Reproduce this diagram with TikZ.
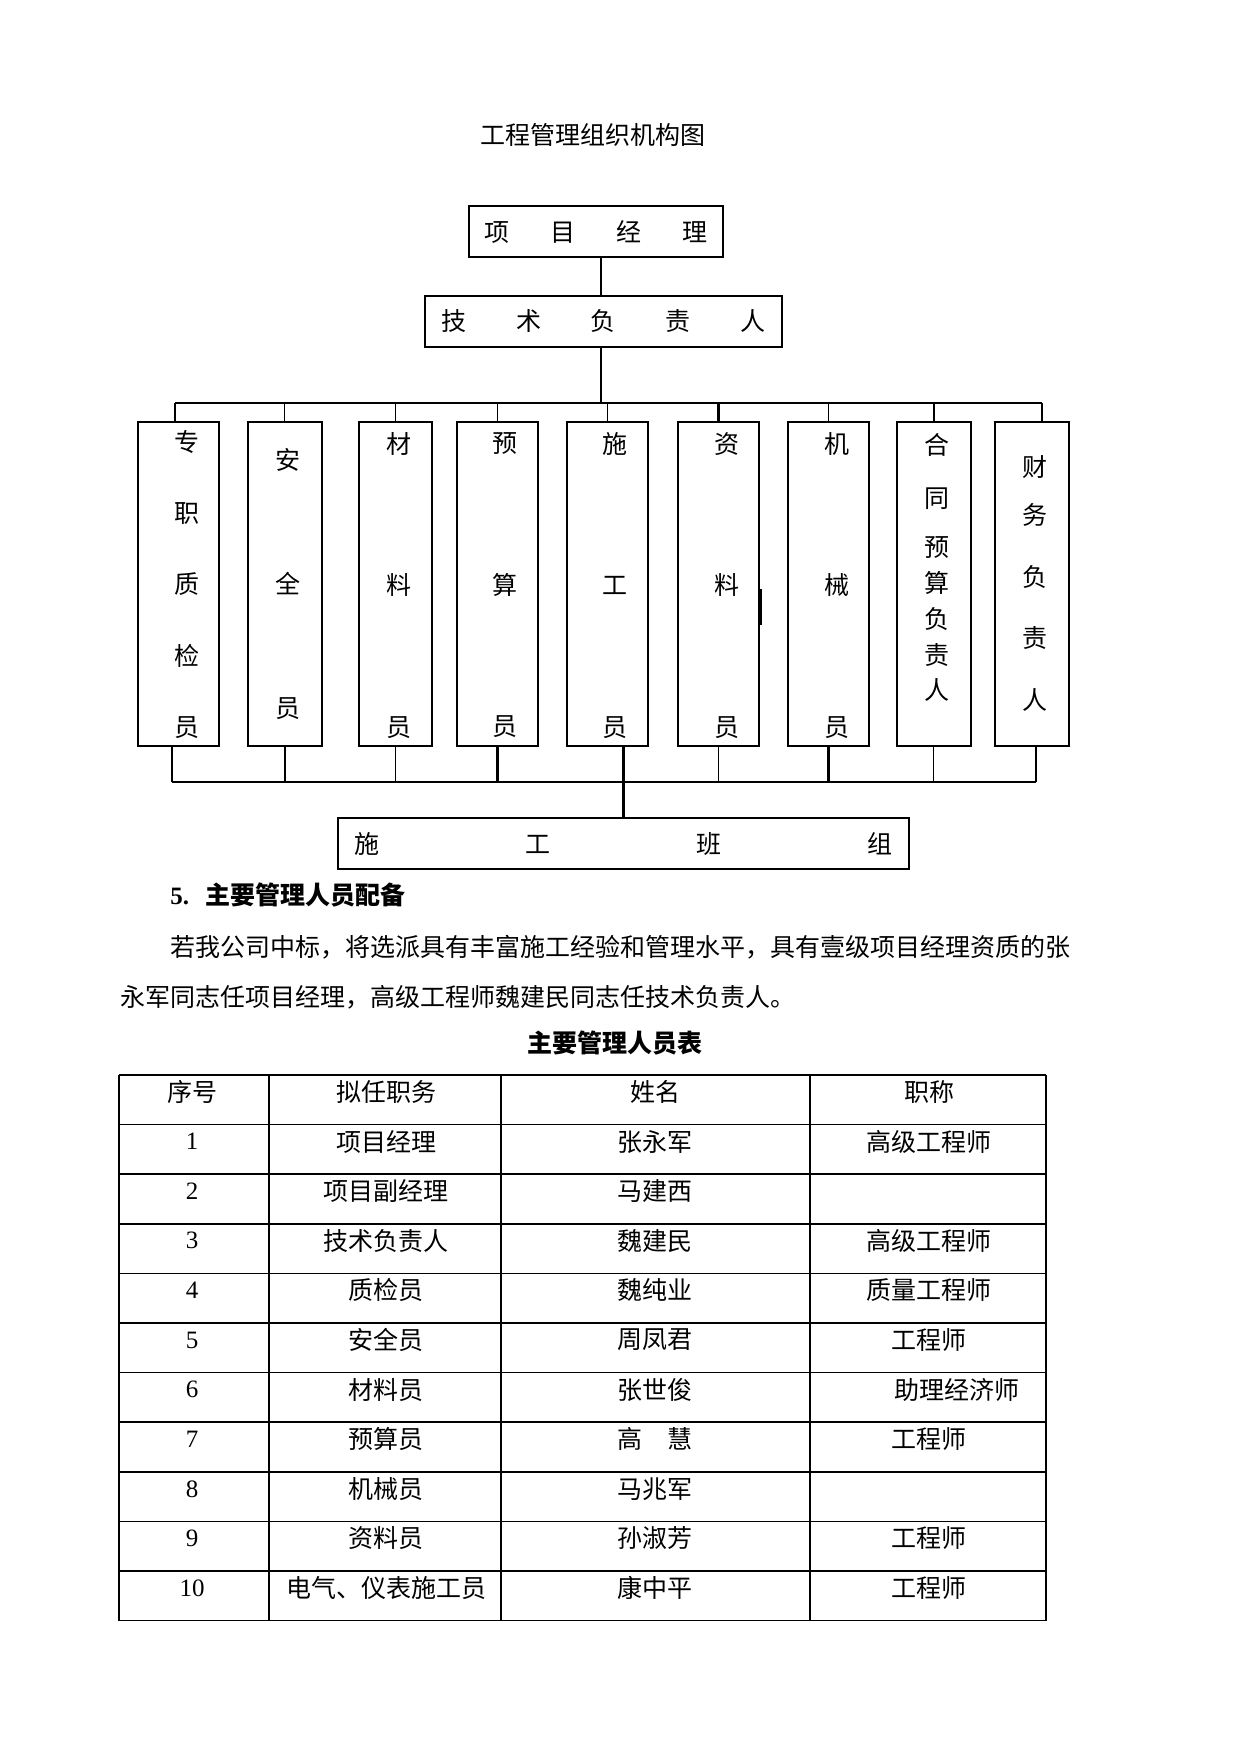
\documentclass[tikz,border=0pt]{standalone}
\usepackage{fontspec}
\usepackage{tikz}
\usetikzlibrary{positioning,calc}
\setmainfont{Liberation Serif}
\newfontfamily\cjk{Noto Sans CJK SC}

\begin{document}
\begin{tikzpicture}[x=0.48pt, y=-0.48pt, font=\cjk\fontsize{12}{14}\selectfont]
\tikzset{head/.style={draw, line width=1.2pt, minimum height=24.5pt, inner sep=0pt}, gang/.style={draw, line width=0.7pt, minimum height=24.5pt, inner sep=0pt}, post/.style={draw, line width=0.8pt, minimum height=155.5pt, inner sep=0pt, outer sep=0pt}, vtext/.style={align=center, inner sep=0pt, font=\cjk\fontsize{12}{#1}\selectfont}, wire/.style={line width=0.5pt}, bus/.style={line width=1.1pt}, rule/.style={line width=0.7pt}, cell/.style={inner sep=0pt}}
\useasboundingbox (0,0) rectangle (1241,1754);
\node (title) at (593,135) {工程管理组织机构图};
\node[head, minimum width=121.9pt] (pm) at (596,231.5) {项\hspace{19.6pt}目\hspace{19.6pt}经\hspace{19.6pt}理};
\node[head, minimum width=171.4pt] (tech) at (603.5,321.5) {技\hspace{23.8pt}术\hspace{23.8pt}负\hspace{23.8pt}责\hspace{23.8pt}人};
\node[post, minimum width=38.9pt] (b1) at (178.5,584) {};
\node[post, minimum width=35.5pt, right=13.9pt of b1] (b2) {};
\node[post, minimum width=35pt, right=17.8pt of b2] (b3) {};
\node[post, minimum width=38.9pt, right=12pt of b3] (b4) {};
\node[post, minimum width=38.9pt, right=13.9pt of b4] (b5) {};
\node[post, minimum width=38.9pt, right=14.4pt of b5] (b6) {};
\node[post, minimum width=38.9pt, right=13.9pt of b6] (b7) {};
\node[post, minimum width=35.5pt, right=13.4pt of b7] (b8) {};
\node[post, minimum width=35.5pt, right=11.5pt of b8] (b9) {};
\node[vtext=34.2pt] (t1) at ($(b1)+(8.5,0.5)$) {专\\职\\质\\检\\员};
\node[vtext=59.5pt] (t2) at ($(b2)+(3,0)$) {安\\全\\员};
\node[vtext=67.9pt] (t3) at ($(b3)+(3.5,1.5)$) {材\\料\\员};
\node[vtext=67.9pt] (t4) at ($(b4)+(7.5,1.5)$) {预\\算\\员};
\node[vtext=67.9pt] (t5) at ($(b5)+(7.5,1.5)$) {施\\工\\员};
\node[vtext=67.9pt] (t6) at ($(b6)+(8.5,1.5)$) {资\\料\\员};
\node[vtext=67.9pt] (t7) at ($(b7)+(8.5,1.5)$) {机\\械\\员};
\node[vtext=17.2pt] (t8) at ($(b8)+(3,-16.5)$) {合\\[8.3pt]同\\[6.4pt]预\\算\\负\\责\\人};
\node[vtext=29.6pt] (t9) at ($(b9)+(3,-0.5)$) {财\\[-6.6pt]务\\负\\责\\人};
\node[gang, minimum width=274.1pt] (crew) at (623.5,843.5) {施\hspace{70.1pt}工\hspace{70.1pt}班\hspace{70.1pt}组};
\coordinate (hub) at (601,403); \coordinate (topL) at (175,403); \coordinate (topR) at (1042,403); \coordinate (botL) at (172,782); \coordinate (botR) at (1036,782);
\draw[wire] (hub |- pm.south) -- (hub |- tech.north); \draw[wire] (hub |- tech.south) -- (hub);
\draw[bus] (topL) -- (topR);
\draw[bus] (topL) -- (topL |- b1.north); \draw[wire] (b2.north) -- (b2.north |- topL); \draw[wire] (b3.north) -- (b3.north |- topL); \draw[wire] (b4.north) -- (b4.north |- topL); \draw[wire] (b5.north) -- (b5.north |- topL); \draw[bus] (b6.north) -- (b6.north |- topL); \draw[line width=0.8pt] (b7.north) -- (b7.north |- topL); \draw[bus] (b8.north) -- (b8.north |- topL); \draw[bus] (topR) -- (topR |- b9.north);
\draw[rule] (botL) -- (botR);
\draw[wire] (botL) -- (botL |- b1.south); \draw[bus] (b2.south) -- (b2.south |- botL); \draw[wire] (b3.south) -- (b3.south |- botL); \draw[bus] (b4.south) -- (b4.south |- botL); \draw[bus] (b5.south -| crew.north) -- (crew.north); \draw[wire] (b6.south) -- (b6.south |- botL); \draw[bus] (b7.south) -- (b7.south |- botL); \draw[wire] (b8.south) -- (b8.south |- botL); \draw[bus] (botR) -- (botR |- b9.south);
\draw[bus] ($(b6.east)+(2,5)$) -- ($(b6.east)+(2,41)$);
\node[anchor=west, inner sep=0pt] (sec) at (170,895) {\rmfamily\bfseries 5.\hspace{8pt}\cjk 主要管理人员配备};
\node[anchor=west, inner sep=0pt] (par1) at (170,947) {若我公司中标，将选派具有丰富施工经验和管理水平，具有壹级项目经理资质的张};
\node[anchor=west, inner sep=0pt] (par2) at (120,997) {永军同志任项目经理，高级工程师魏建民同志任技术负责人。};
\node (tabtitle) at (615,1043) {\bfseries 主要管理人员表};
\foreach \k in {0,...,11} \draw[rule] (119,{1075+49.6*\k}) -- (1046,{1075+49.6*\k});
\foreach \c in {119,269,501,810,1046} \draw[rule] (\c,1075) -- (\c,1620.6);
\foreach \a/\b/\c/\d [count=\r from 0] in {{\cjk 序号}/拟任职务/姓名/职称, 1/项目经理/张永军/高级工程师, 2/项目副经理/马建西/{}, 3/技术负责人/魏建民/高级工程师, 4/质检员/魏纯业/质量工程师, 5/安全员/周凤君/工程师, 6/材料员/张世俊/\hspace{27pt}助理经济师, 7/预算员/高　慧/工程师, 8/机械员/马兆军/{}, 9/资料员/孙淑芳/工程师, 10/电气、仪表施工员/康中平/工程师}
{\node[cell, font=\rmfamily\fontsize{12}{14}\selectfont] (no\r) at (192,{1092+49.6*\r}) {\a}; \node[cell] (role\r) at (386,{1092+49.6*\r}) {\b}; \node[cell] (name\r) at (655,{1092+49.6*\r}) {\c}; \node[cell] (rank\r) at (929,{1092+49.6*\r}) {\d};}
\end{tikzpicture}
\end{document}
